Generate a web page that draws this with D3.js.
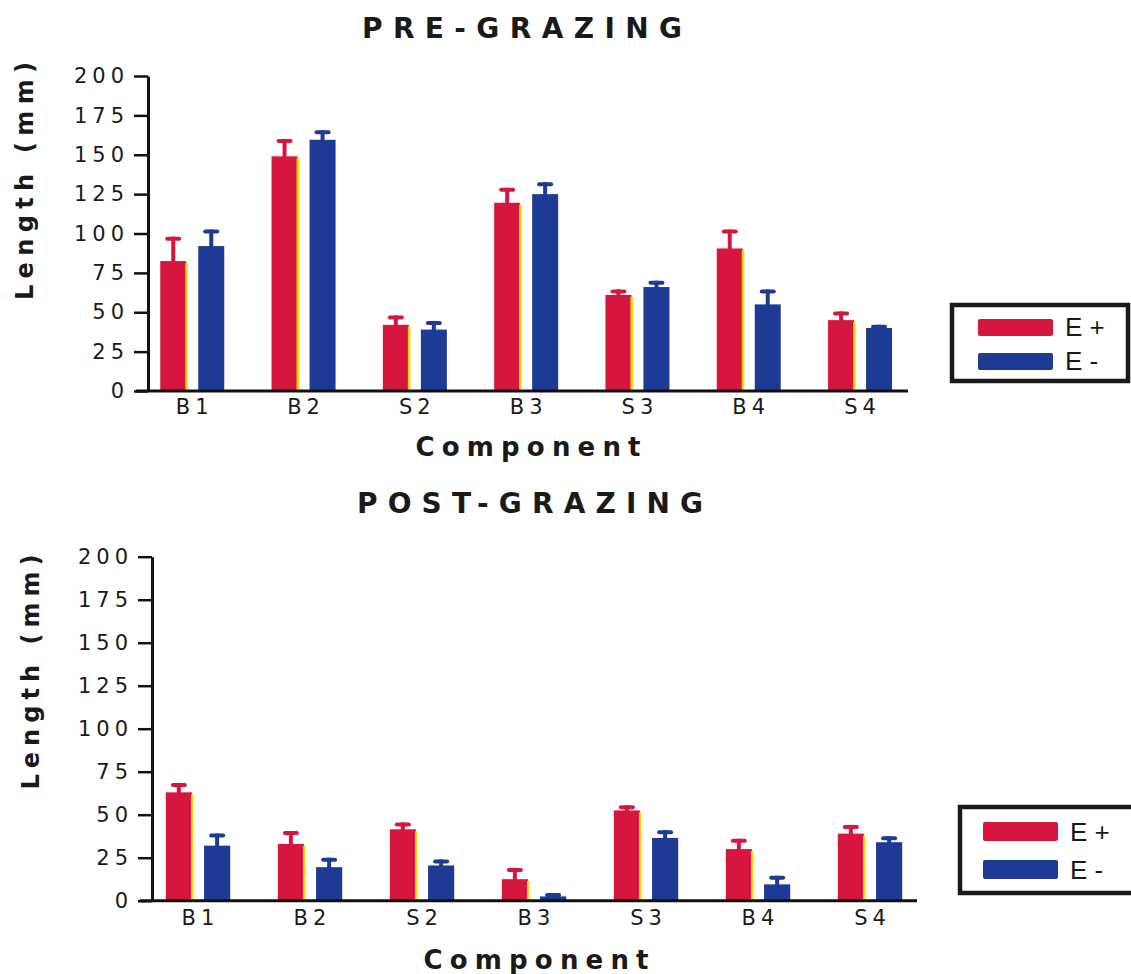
<!DOCTYPE html>
<html>
<head>
<meta charset="utf-8">
<script src="https://cdn.jsdelivr.net/npm/d3@7"></script>
<style>
  body { margin: 0; background: #fff; }
  svg { display: block; }
  text { fill: #1a1a1a; }
</style>
</head>
<body>
<svg id="chart" width="1131" height="974"></svg>
<script>
const categories = ["B1", "B2", "S2", "B3", "S3", "B4", "S4"];
const series = ["E +", "E -"];
const yTicks = [0, 25, 50, 75, 100, 125, 150, 175, 200];

// pre-grazing means and error (upper bar)
const preEplus = [82.5, 149, 42, 119.5, 61, 90.5, 45];
const preEplusErr = [15.5, 11, 6, 9.5, 3.5, 12, 5.5];
const preEminus = [92, 159.5, 39, 125, 66, 55, 40];
const preEminusErr = [10.5, 6, 5.5, 7.5, 4, 9.5, 2];

// post-grazing
const postEplus = [63, 33, 41.5, 12.5, 52.5, 30, 39];
const postEplusErr = [5.5, 7.5, 4, 6.5, 3, 6, 5];
const postEminus = [32, 19.5, 20.5, 2.5, 36.5, 9.5, 34];
const postEminusErr = [7, 5.5, 3.5, 2, 4.5, 5, 3.5];

const colors = { "E +": "#d7163f", "E -": "#1d3a95" };
const tickFont = "21px 'DejaVu Sans', sans-serif";
const boldFont = size => `bold ${size}px 'DejaVu Sans', sans-serif`;

const svg = d3.select("#chart");

function drawPanel(cfg) {
  const g = svg.append("g");

  const y = d3.scaleLinear().domain([0, 200]).range([cfg.y0, cfg.y200]);
  const x = d3.scaleBand().domain(categories).range(cfg.xRange)
    .paddingInner(0.425).paddingOuter(0.2125);
  const x1 = d3.scaleBand().domain(series).range([0, x.bandwidth()]).paddingInner(0.316);

  const rows = categories.map((c, i) => ({
    cat: c,
    vals: [
      { s: "E +", v: cfg.plus[i], e: cfg.plusErr[i] },
      { s: "E -", v: cfg.minus[i], e: cfg.minusErr[i] }
    ]
  }));

  // title
  g.append("text")
    .attr("x", cfg.titleX).attr("y", cfg.titleY)
    .attr("text-anchor", "middle")
    .attr("textLength", cfg.titleLen).attr("lengthAdjust", "spacing")
    .style("font", boldFont(28))
    .text(cfg.title);

  // y axis
  const yAxis = g.append("g")
    .attr("transform", `translate(${cfg.axisX},0)`)
    .call(d3.axisLeft(y).tickValues(yTicks).tickSize(14).tickSizeOuter(0).tickPadding(5));
  yAxis.select(".domain").attr("stroke", "#111").attr("stroke-width", 3);
  yAxis.selectAll(".tick line").attr("stroke", "#111").attr("stroke-width", 2.5);
  yAxis.selectAll(".tick text")
    .style("font", tickFont)
    .style("letter-spacing", "5px")
    .attr("fill", "#1a1a1a");

  // x axis (labels only, line drawn below)
  const xAxis = g.append("g")
    .attr("transform", `translate(0,${cfg.y0})`)
    .call(d3.axisBottom(x).tickSize(0).tickPadding(cfg.xPad));
  xAxis.select(".domain").remove();
  xAxis.selectAll(".tick text")
    .style("font", tickFont)
    .style("letter-spacing", "5px")
    .attr("dx", "2.5px")
    .attr("fill", "#1a1a1a");

  // bars
  const groups = g.selectAll(".grp").data(rows).join("g")
    .attr("class", "grp")
    .attr("transform", d => `translate(${x(d.cat)},0)`);

  groups.selectAll("rect.bar").data(d => d.vals).join("rect")
    .attr("class", "bar")
    .attr("x", d => x1(d.s))
    .attr("y", d => y(d.v))
    .attr("width", x1.bandwidth())
    .attr("height", d => y(0) - y(d.v))
    .attr("fill", d => colors[d.s]);

  // thin yellow fringe on the right edge of red bars
  groups.selectAll("rect.fringe").data(d => d.vals.filter(v => v.s === "E +")).join("rect")
    .attr("class", "fringe")
    .attr("x", d => x1(d.s) + x1.bandwidth() - 1)
    .attr("y", d => y(d.v) + 2)
    .attr("width", 2.5)
    .attr("height", d => Math.max(0, y(0) - y(d.v) - 2))
    .attr("fill", "#ffd400");

  // error bars: stem + rounded cap
  groups.selectAll("rect.stem").data(d => d.vals).join("rect")
    .attr("class", "stem")
    .attr("x", d => x1(d.s) + x1.bandwidth() / 2 - 2)
    .attr("y", d => y(d.v + d.e))
    .attr("width", 4)
    .attr("height", d => y(d.v) - y(d.v + d.e) + 1)
    .attr("fill", d => colors[d.s]);

  groups.selectAll("rect.cap").data(d => d.vals).join("rect")
    .attr("class", "cap")
    .attr("x", d => x1(d.s) + x1.bandwidth() / 2 - 8)
    .attr("y", d => y(d.v + d.e))
    .attr("width", 16)
    .attr("height", 4)
    .attr("rx", 2)
    .attr("fill", d => colors[d.s]);

  // x axis line
  g.append("line")
    .attr("x1", cfg.axisX - 12).attr("x2", cfg.xLineEnd)
    .attr("y1", y(0)).attr("y2", y(0))
    .attr("stroke", "#111").attr("stroke-width", 3);

  // axis titles
  g.append("text")
    .attr("transform", `translate(${cfg.yLabelX},${cfg.yLabelY}) rotate(-90)`)
    .attr("text-anchor", "middle")
    .attr("textLength", cfg.yLabelLen).attr("lengthAdjust", "spacing")
    .style("font", boldFont(24))
    .text("Length (mm)");

  g.append("text")
    .attr("x", cfg.xLabelX).attr("y", cfg.xLabelY)
    .attr("text-anchor", "middle")
    .attr("textLength", 225).attr("lengthAdjust", "spacing")
    .style("font", boldFont(26))
    .text("Component");

  // legend
  const lg = g.append("g").attr("transform", `translate(${cfg.legX},${cfg.legY})`);
  lg.append("rect")
    .attr("x", 0).attr("y", 0)
    .attr("width", cfg.legW).attr("height", cfg.legH)
    .attr("fill", "#fff").attr("stroke", "#1a1a1a").attr("stroke-width", 4.5);
  series.forEach((s, i) => {
    lg.append("rect")
      .attr("x", cfg.swX).attr("y", cfg.swY + i * cfg.swStep)
      .attr("width", 75).attr("height", cfg.swH).attr("rx", 2)
      .attr("fill", colors[s]);
    lg.append("text")
      .attr("x", cfg.swX + 87).attr("y", cfg.swY + cfg.swH + i * cfg.swStep)
      .style("font", "26px 'Liberation Sans', Arial, sans-serif")
      .style("white-space", "pre")
      .text(s);
  });
}

drawPanel({
  title: "PRE-GRAZING", titleX: 522, titleY: 38, titleLen: 320,
  plus: preEplus, plusErr: preEplusErr, minus: preEminus, minusErr: preEminusErr,
  y0: 391, y200: 76, axisX: 148, xRange: [136.6, 915.7], xLineEnd: 908, xPad: 8,
  yLabelX: 33, yLabelY: 181, yLabelLen: 238,
  xLabelX: 528, xLabelY: 456,
  legX: 952, legY: 305, legW: 176, legH: 76,
  swX: 26, swY: 14, swH: 17, swStep: 34
});

drawPanel({
  title: "POST-GRAZING", titleX: 530, titleY: 513, titleLen: 346,
  plus: postEplus, plusErr: postEplusErr, minus: postEminus, minusErr: postEminusErr,
  y0: 900.7, y200: 556.7, axisX: 152, xRange: [142, 926], xLineEnd: 917, xPad: 9,
  yLabelX: 39, yLabelY: 672, yLabelLen: 235,
  xLabelX: 536, xLabelY: 969,
  legX: 960, legY: 807, legW: 200, legH: 86,
  swX: 23, swY: 15, swH: 19, swStep: 38
});
</script>
</body>
</html>
